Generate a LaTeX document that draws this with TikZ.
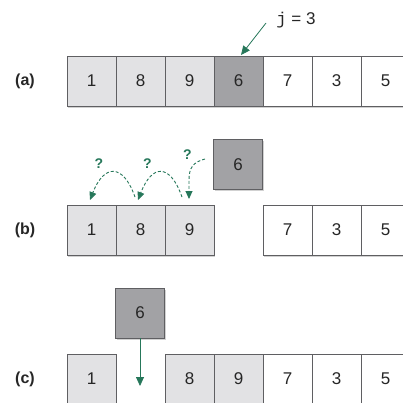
\documentclass[tikz,border=0pt]{standalone}
\usepackage{fontspec}
\setmainfont{Liberation Sans}
\newfontfamily\jmono{Liberation Mono}
\usetikzlibrary{shadows,arrows.meta}
\definecolor{cellborder}{HTML}{5F5F62}
\definecolor{lightcell}{HTML}{E2E2E4}
\definecolor{darkcell}{HTML}{A2A2A5}
\definecolor{arrowgreen}{HTML}{26775A}
\tikzset{
  cell/.style={draw=cellborder, line width=0.8pt, minimum width=49pt, minimum height=50pt,
    inner sep=0pt, font=\fontsize{17}{19}\selectfont, text=black!85,
    drop shadow={shadow xshift=1pt, shadow yshift=-1.8pt, fill=black, opacity=0.18}},
  light/.style={cell, fill=lightcell},
  dark/.style={cell, fill=darkcell},
  plain/.style={cell, fill=white},
  rowlabel/.style={font=\bfseries\fontsize{16}{18}\selectfont, text=black!85},
  qmark/.style={font=\bfseries\fontsize{14}{16}\selectfont, text=arrowgreen},
  garrow/.style={draw=arrowgreen, line width=0.8pt, -{Triangle[length=9pt,width=8pt]}},
  gdash/.style={draw=arrowgreen, line width=0.9pt, dash pattern=on 3pt off 2pt, -{Triangle[length=8pt,width=7pt]}}
}
\begin{document}
\begin{tikzpicture}[x=1pt,y=-1pt]
\useasboundingbox (0,0) rectangle (403,402);
\clip (0,0) rectangle (403,402);
% row (a)
\node[rowlabel] (la) at (25,81) {(a)};
\node[light] (a1) at (91.5,81) {1};
\node[light] (a2) at (140.5,81) {8};
\node[light] (a3) at (189.5,81) {9};
\node[dark]  (a4) at (238.5,81) {6};
\node[plain] (a5) at (287.5,81) {7};
\node[plain] (a6) at (336.5,81) {3};
\node[plain] (a7) at (385.5,81) {5};
\node[font=\fontsize{17}{19}\selectfont, text=black!85] (j) at (296,20) {{\jmono j} = 3};
\coordinate (jstart) at (266,23);
\coordinate (jend) at (241,55);
\draw[garrow] (jstart) -- (jend);
% row (b)
\node[rowlabel] (lb) at (25,230) {(b)};
\node[light] (b1) at (91.5,230) {1};
\node[light] (b2) at (140.5,230) {8};
\node[light] (b3) at (189.5,230) {9};
\node[dark]  (bx) at (238,164.5) {6};
\node[plain] (b5) at (287.5,230) {7};
\node[plain] (b6) at (336.5,230) {3};
\node[plain] (b7) at (385.5,230) {5};
\coordinate (s1) at (205,159);
\coordinate (e1) at (189,199);
\coordinate (s2) at (182,197);
\coordinate (e2) at (138,200);
\coordinate (s3) at (135,197);
\coordinate (e3) at (90,200);
\draw[gdash] (s1) .. controls (193,162) and (189,168) .. (189,180) -- (e1);
\draw[gdash] (s2) .. controls (170,163) and (152,164) .. (e2);
\draw[gdash] (s3) .. controls (123,163) and (104,164) .. (e3);
\node[qmark] (q1) at (99,164) {?};
\node[qmark] (q2) at (147.5,164) {?};
\node[qmark] (q3) at (187.5,155) {?};
% row (c)
\node[rowlabel] (lc) at (25,379) {(c)};
\node[light] (c1) at (91.5,379) {1};
\node[dark]  (cx) at (140,313) {6};
\node[light] (c3) at (189.5,379) {8};
\node[light] (c4) at (238.5,379) {9};
\node[plain] (c5) at (287.5,379) {7};
\node[plain] (c6) at (336.5,379) {3};
\node[plain] (c7) at (385.5,379) {5};
\coordinate (cend) at (140,386);
\draw[garrow] (cx.south) -- (cend);
\end{tikzpicture}
\end{document}
